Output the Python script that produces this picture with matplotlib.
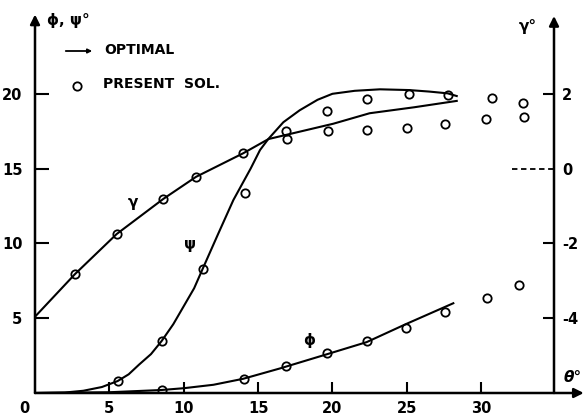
import matplotlib
matplotlib.use("Agg")
import matplotlib.pyplot as plt

# ---- data ----
# theta (deg) values and phi/psi in degrees (left axis), gamma in degrees (right axis)
psi_line_theta = [0, 2, 3.25, 4.5, 5.56, 6.3, 7.0, 7.8, 8.52, 9.3, 10, 10.7, 11.28, 12.3,
                  13.34, 14.5, 15.13, 15.69, 16.7, 17.8, 19, 20, 21.5, 23.2, 25.15, 26.5,
                  27.75, 28.36]
psi_line_val = [0, 0.03, 0.15, 0.4, 0.8, 1.25, 1.9, 2.6, 3.48, 4.6, 5.8, 7.0, 8.31, 10.6,
                12.9, 15.0, 16.24, 16.98, 18.1, 18.9, 19.6, 20.0, 20.2, 20.3, 20.25, 20.15,
                20.03, 19.85]
psi_pts_theta = [5.56, 8.52, 11.28, 14.12, 16.88, 19.64, 22.35, 25.15, 27.75, 30.7, 32.8]
psi_pts_val = [0.80, 3.48, 8.31, 13.39, 17.51, 18.85, 19.67, 19.96, 19.9, 19.7, 19.36]

phi_line_theta = [0, 5, 8.5, 10, 12, 14, 16.5, 19.66, 22.3, 24.93, 28.13]
phi_line_val = [0, 0.05, 0.2, 0.32, 0.55, 0.95, 1.65, 2.6, 3.4, 4.6, 6.0]
phi_pts_theta = [8.56, 14.08, 16.88, 19.66, 22.3, 24.93, 27.6, 30.37, 32.57]
phi_pts_val = [0.2, 0.94, 1.83, 2.70, 3.5, 4.32, 5.41, 6.37, 7.24]

gamma_line_theta = [0, 2.69, 5.49, 8.63, 10.83, 14.0, 15.7, 20.06, 22.5, 25.5, 28.36]
gamma_line_val = [-3.96, -2.82, -1.75, -0.81, -0.22, 0.41, 0.79, 1.2, 1.48, 1.64, 1.81]
gamma_pts_theta = [2.69, 5.49, 8.63, 10.83, 14.0, 16.97, 19.73, 22.35, 25.0, 27.6, 30.33, 32.9]
gamma_pts_val = [-2.82, -1.75, -0.81, -0.22, 0.41, 0.8, 1.0, 1.04, 1.08, 1.18, 1.33, 1.38]

x_ticks = [5, 10, 15, 20, 25, 30]
left_ticks = [5, 10, 15, 20]
right_ticks = [2, 0, -2, -4]
right_labels = ["2", "0", "-2", "-4"]

# ---- figure ----
W, H = 584, 416
fig = plt.figure(figsize=(W / 100, H / 100), dpi=100)
ax = fig.add_axes([35 / W, 23 / H, 519 / W, 374 / H])
ax2 = ax.twinx()

XMAX = 34.9
ax.set_xlim(0, XMAX)
ax.set_ylim(0, 25)
ax2.set_ylim(-6, 4)

for a in (ax, ax2):
    for s in a.spines.values():
        s.set_visible(False)

lw = 1.5
mk = dict(marker='o', linestyle='none', markersize=6, markerfacecolor='none',
          markeredgecolor='k', markeredgewidth=1.3)

ax.plot(psi_line_theta, psi_line_val, color='k', lw=lw)
ax.plot(phi_line_theta, phi_line_val, color='k', lw=lw)
ax.plot(psi_pts_theta, psi_pts_val, **mk)
ax.plot(phi_pts_theta, phi_pts_val, **mk)
ax2.plot(gamma_line_theta, gamma_line_val, color='k', lw=lw)
ax2.plot(gamma_pts_theta, gamma_pts_val, **mk)

# axes with arrows
arrow = dict(arrowstyle='-|>', lw=1.8, color='k', mutation_scale=14, shrinkA=0, shrinkB=0)
ax.annotate('', xy=(0, 25.3), xytext=(0, 0), arrowprops=arrow, annotation_clip=False)
ax.annotate('', xy=(XMAX, 25.2), xytext=(XMAX, 0), arrowprops=arrow, annotation_clip=False)
ax.annotate('', xy=(36.9, 0), xytext=(0, 0), arrowprops=arrow, annotation_clip=False)

tfont = dict(fontsize=10.5, fontweight='bold', family='DejaVu Sans')

ax.set_xticks(x_ticks)
ax.set_xticklabels([str(v) for v in x_ticks], **tfont)
ax.tick_params(axis='x', direction='in', length=8, width=1.5, pad=6)
ax.set_yticks(left_ticks)
ax.set_yticklabels([str(v) for v in left_ticks], **tfont)
ax.tick_params(axis='y', direction='in', length=10, width=1.5, pad=9)
ax.annotate('0', xy=(0, 0), xytext=(-8, -6), textcoords='offset points',
            ha='center', va='top', **tfont)

ax2.set_yticks(right_ticks)
ax2.set_yticklabels(right_labels, **tfont)
ax2.tick_params(axis='y', direction='in', length=8, width=1.5, pad=6)
ax2.get_yaxis().get_major_ticks()[1].tick2line.set_visible(False)
ax2.plot([32.1, XMAX], [0, 0], color='k', lw=1.3, dashes=(3, 2))

# axis titles
fig.text(47 / W, 1 - 20 / H, 'ϕ, ψ°', ha='left', va='center', fontsize=11, fontweight='bold')
fig.text(528 / W, 1 - 27 / H, 'γ°', ha='center', va='center', fontsize=11, fontweight='bold')
fig.text(573 / W, 1 - 378 / H, 'θ°', ha='center', va='center', fontsize=11,
         fontweight='bold', style='italic')

# legend
fig.add_artist(matplotlib.patches.FancyArrowPatch((63 / W, 1 - 51 / H), (95 / W, 1 - 51 / H),
               transform=fig.transFigure, arrowstyle='-|>', mutation_scale=6, lw=1.3, color='k'))
fig.text(104 / W, 1 - 50 / H, 'OPTIMAL', ha='left', va='center', fontsize=10, fontweight='bold')
fig.add_artist(matplotlib.lines.Line2D([77 / W], [1 - 86 / H], transform=fig.transFigure, **mk))
fig.text(103 / W, 1 - 84 / H, 'PRESENT  SOL.', ha='left', va='center', fontsize=10, fontweight='bold')

# curve labels
fig.text(133 / W, 1 - 203 / H, 'γ', ha='center', va='center', fontsize=11, fontweight='bold')
fig.text(190 / W, 1 - 245 / H, 'ψ', ha='center', va='center', fontsize=11, fontweight='bold')
fig.text(309 / W, 1 - 340 / H, 'ϕ', ha='center', va='center', fontsize=11, fontweight='bold')

fig.savefig('out.png', dpi=100)
